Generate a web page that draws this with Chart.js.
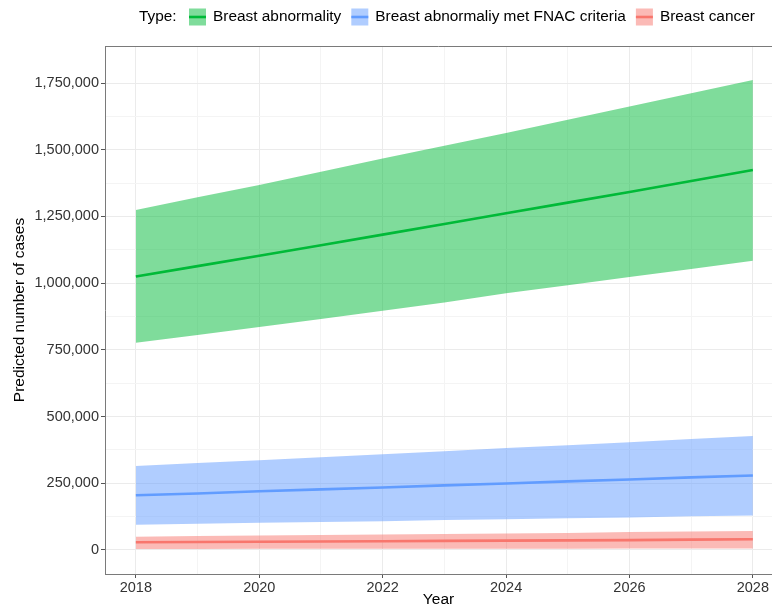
<!DOCTYPE html>
<html>
<head>
<meta charset="utf-8">
<script src="https://cdn.jsdelivr.net/npm/chart.js@4/dist/chart.umd.min.js"></script>
<style>
  html, body { margin: 0; padding: 0; background: #ffffff; }
  #wrap { width: 772px; height: 609px; }
</style>
</head>
<body>
<div id="wrap"><canvas id="c" width="772" height="609"></canvas></div>
<script>
// Projected yearly case counts with 95% intervals
const years = [2018, 2019, 2020, 2021, 2022, 2023, 2024, 2025, 2026, 2027, 2028];

const abnormalFit  = [1025000, 1064000, 1103000, 1142000, 1182000, 1222000, 1262000, 1302000, 1342000, 1383000, 1424000];
const abnormalLow  = [777000, 806000, 836000, 866000, 897000, 928000, 962000, 992000, 1023000, 1053000, 1084000];
const abnormalHigh = [1274000, 1322000, 1368000, 1418000, 1467000, 1515000, 1563000, 1613000, 1662000, 1712000, 1762000];

const fnacFit  = [205000, 212000, 220000, 227000, 234000, 242000, 249000, 257000, 264000, 272000, 279000];
const fnacLow  = [95000, 98000, 102000, 105000, 108000, 112000, 115000, 119000, 122000, 126000, 129000];
const fnacHigh = [315000, 326000, 336000, 348000, 359000, 370000, 382000, 393000, 404000, 416000, 427000];

const cancerFit  = [29000, 30000, 31000, 32000, 33000, 34000, 35000, 36000, 37000, 39000, 40000];
const cancerLow  = [4000, 4000, 5000, 5000, 5000, 5000, 5000, 5000, 6000, 6000, 6000];
const cancerHigh = [50000, 52000, 54000, 56000, 58000, 60000, 62000, 64000, 67000, 69000, 71000];

const seriesNames = ['Breast abnormality', 'Breast abnormaliy met FNAC criteria', 'Breast cancer'];
const legendTitle = 'Type:';
const xMajorTicks = [2018, 2020, 2022, 2024, 2026, 2028];
const yMajorTicks = [0, 250000, 500000, 750000, 1000000, 1250000, 1500000, 1750000];
const yMinorTicks = [125000, 375000, 625000, 875000, 1125000, 1375000, 1625000];

const lineColors = ['#00BA38', '#619CFF', '#F8766D'];
const bandColors = ['rgba(0,186,56,0.5)', 'rgba(97,156,255,0.5)', 'rgba(248,118,109,0.5)'];

const FONT = '"Liberation Sans", Arial, Helvetica, sans-serif';

const toPoints = arr => arr.map((v, i) => ({ x: years[i], y: v }));

const groups = [
  { fit: abnormalFit, low: abnormalLow, high: abnormalHigh },
  { fit: fnacFit, low: fnacLow, high: fnacHigh },
  { fit: cancerFit, low: cancerLow, high: cancerHigh }
];

const datasets = [];
groups.forEach((g, k) => {
  const lowIndex = datasets.length;
  datasets.push({
    label: seriesNames[k] + ' lower',
    data: toPoints(g.low),
    borderWidth: 0, pointRadius: 0, fill: false, order: 2, tension: 0
  });
  datasets.push({
    label: seriesNames[k] + ' upper',
    data: toPoints(g.high),
    borderWidth: 0, pointRadius: 0, tension: 0,
    backgroundColor: bandColors[k],
    fill: { target: lowIndex },
    order: 1
  });
  datasets.push({
    label: seriesNames[k],
    data: toPoints(g.fit),
    borderColor: lineColors[k], borderWidth: 2.6,
    pointRadius: 0, fill: false, order: 0, tension: 0
  });
});

// Legend row and the top edge of the panel frame
const frameAndLegend = {
  id: 'frameAndLegend',
  afterDraw(chart) {
    const ctx = chart.ctx;
    const a = chart.chartArea;
    ctx.save();
    ctx.strokeStyle = '#7a7a7a';
    ctx.lineWidth = 1;
    ctx.beginPath();
    ctx.moveTo(a.left, a.top + 0.5);
    ctx.lineTo(a.right, a.top + 0.5);
    ctx.stroke();

    const cy = 17;
    ctx.font = '15.4px ' + FONT;
    ctx.fillStyle = '#000';
    ctx.textBaseline = 'middle';
    ctx.fillText(legendTitle, 139, cy);
    let x = 189;
    seriesNames.forEach((name, k) => {
      ctx.fillStyle = bandColors[k];
      ctx.fillRect(x, cy - 8.5, 17, 17);
      ctx.strokeStyle = lineColors[k];
      ctx.lineWidth = 2.6;
      ctx.beginPath();
      ctx.moveTo(x, cy);
      ctx.lineTo(x + 17, cy);
      ctx.stroke();
      ctx.fillStyle = '#000';
      const tx = x + 24;
      ctx.fillText(name, tx, cy);
      x = tx + ctx.measureText(name).width + 10;
    });
    ctx.restore();
  }
};

new Chart(document.getElementById('c'), {
  type: 'line',
  data: { datasets },
  options: {
    responsive: false,
    devicePixelRatio: 1,
    animation: false,
    layout: { padding: { top: 46, left: 0, right: 0, bottom: 0 } },
    plugins: { legend: { display: false }, tooltip: { enabled: false } },
    scales: {
      x: {
        type: 'linear',
        min: 2017.5,
        max: 2028.31,
        afterBuildTicks: s => { s.ticks = years.map(v => ({ value: v })); },
        afterFit: s => { s.height = 35; },
        ticks: {
          autoSkip: false, maxRotation: 0,
          callback: v => xMajorTicks.includes(v) ? String(v) : '',
          font: { family: FONT, size: 14.5 },
          color: '#333', padding: 1
        },
        grid: {
          color: c => (c.tick && xMajorTicks.includes(c.tick.value)) ? '#ebebeb' : '#f4f4f4',
          tickColor: c => (c.tick && xMajorTicks.includes(c.tick.value)) ? '#555' : 'rgba(0,0,0,0)',
          tickLength: 4
        },
        border: { color: '#7a7a7a', width: 1 },
        title: {
          display: true, text: 'Year', color: '#000',
          font: { family: FONT, size: 15.5 },
          padding: { top: 4, bottom: 0 }
        }
      },
      y: {
        type: 'linear',
        min: -90000,
        max: 1889000,
        afterBuildTicks: s => {
          s.ticks = yMajorTicks.concat(yMinorTicks).sort((p, q) => p - q).map(v => ({ value: v }));
        },
        afterFit: s => { s.width = 105; },
        ticks: {
          autoSkip: false,
          callback: v => yMajorTicks.includes(v) ? v.toLocaleString('en-US') : '',
          font: { family: FONT, size: 14.5 },
          color: '#333', padding: 2
        },
        grid: {
          color: c => (c.tick && yMajorTicks.includes(c.tick.value)) ? '#ebebeb' : '#f4f4f4',
          tickColor: c => (c.tick && yMajorTicks.includes(c.tick.value)) ? '#555' : 'rgba(0,0,0,0)',
          tickLength: 4
        },
        border: { color: '#7a7a7a', width: 1 },
        title: {
          display: true, text: 'Predicted number of cases', color: '#000',
          font: { family: FONT, size: 15.5 },
          padding: { top: 10, bottom: 0 }
        }
      }
    }
  },
  plugins: [frameAndLegend]
});
</script>
</body>
</html>
